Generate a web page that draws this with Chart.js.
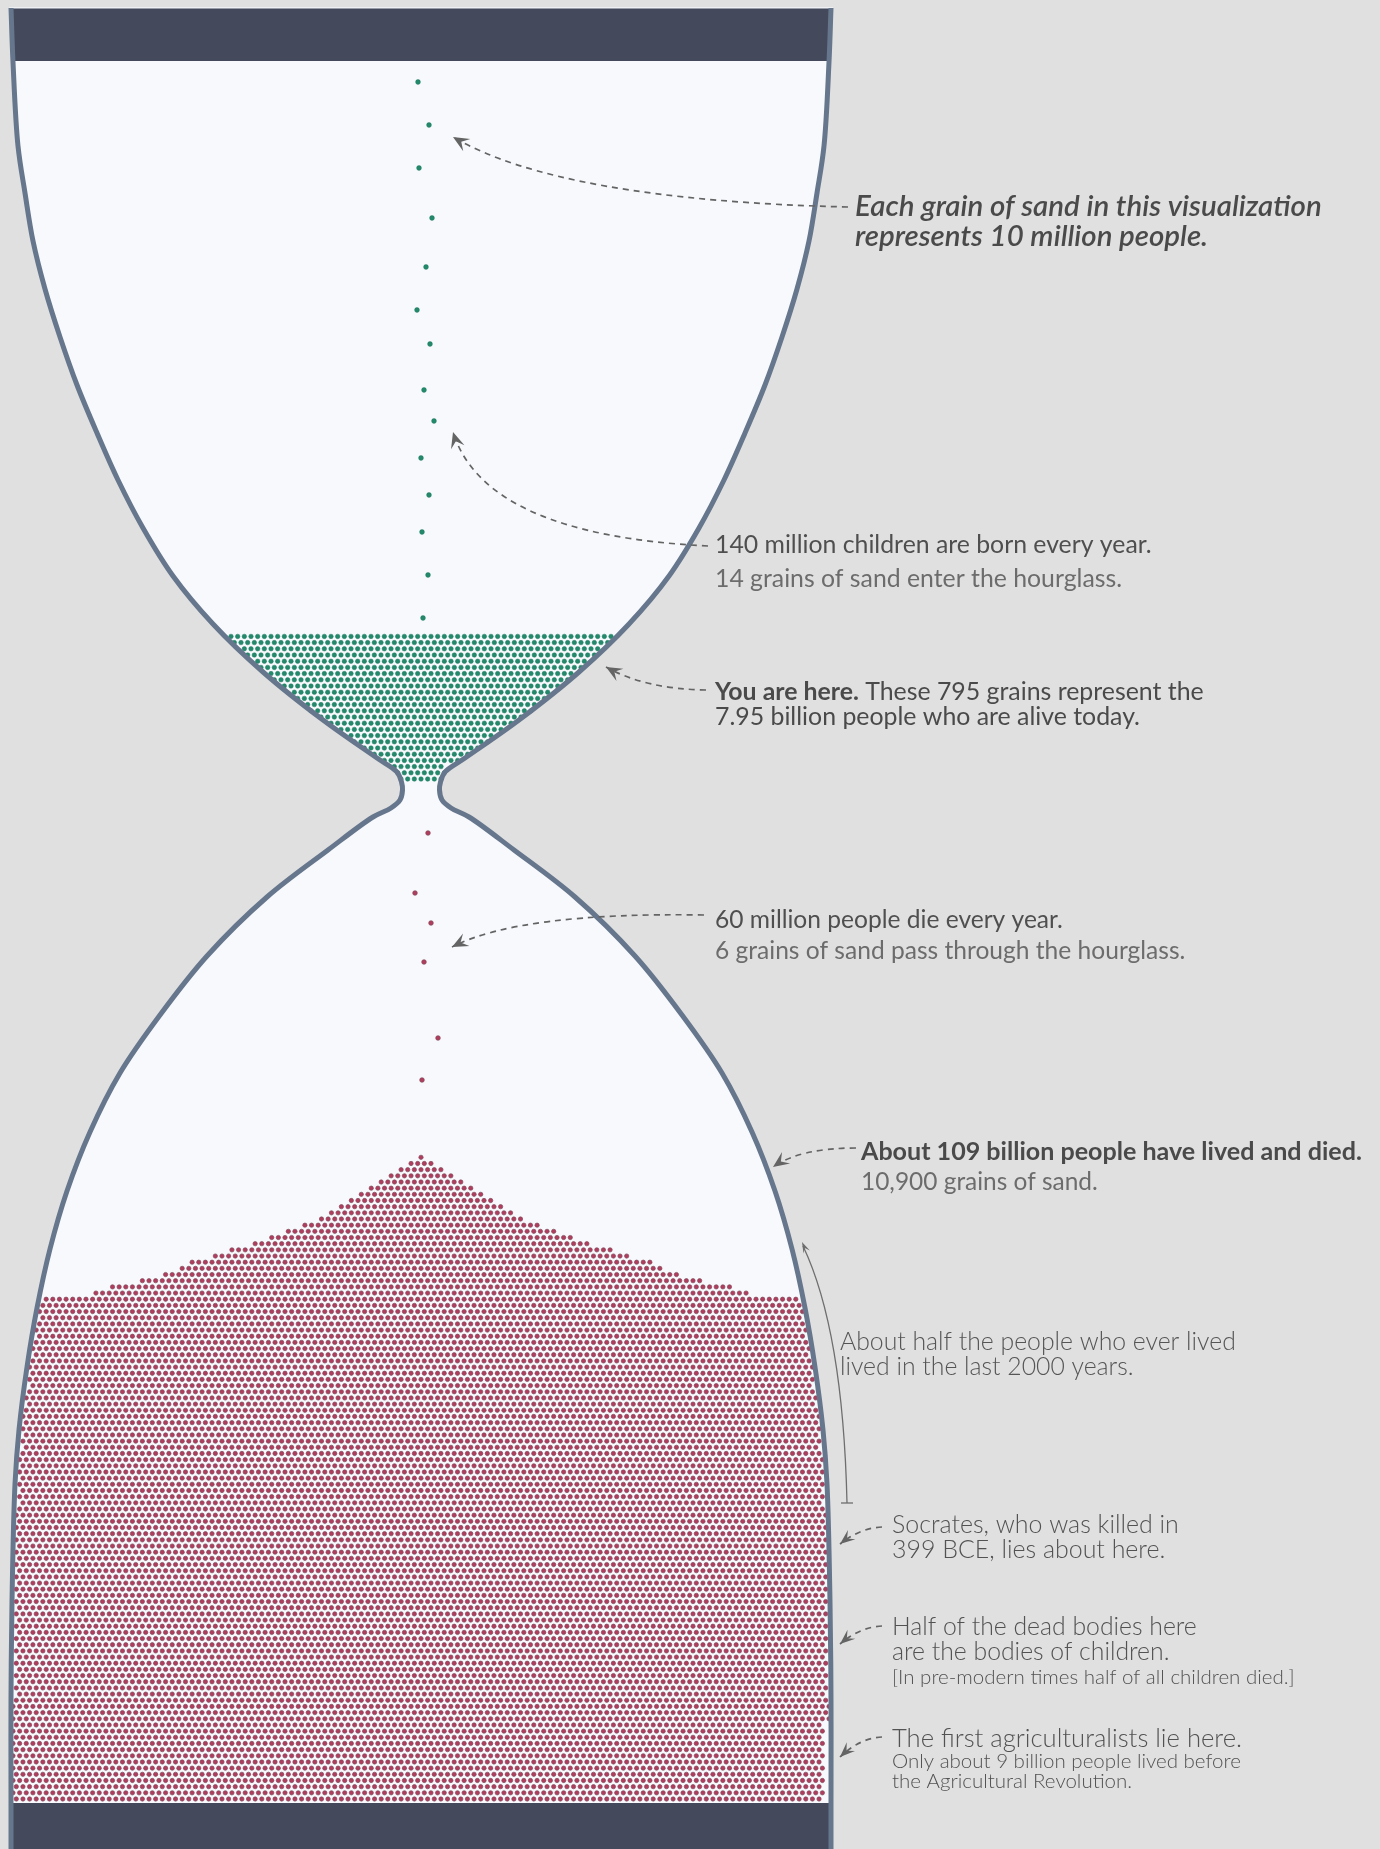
<!DOCTYPE html>
<html>
<head>
<meta charset="utf-8">
<style>
html,body{margin:0;padding:0;background:#e0e0e0;}
#wrap{width:1380px;height:1849px;position:relative;}
canvas{display:block;}
</style>
<script src="https://cdn.jsdelivr.net/npm/chart.js@4.4.0/dist/chart.umd.min.js"></script>
</head>
<body>
<div id="wrap"><canvas id="c" width="1380" height="1849"></canvas></div>
<script>
// ---------------- DATA ----------------
const aliveGrains = 795;      // 7.95 billion alive / 10 million per grain
const deadGrains = 10900;     // 109 billion dead / 10 million per grain
// grains falling into the top bulb (14 per year) and through the neck (6 per year)
const fallingAliveX = [418, 429, 419, 432, 426, 417, 430, 424, 434, 421, 429, 422, 428, 423];
const fallingAliveY = [82, 125, 168, 218, 267, 310, 344, 390, 421, 458, 495, 532, 575, 618];
const fallingDeadX = [428, 415, 431, 424, 438, 422];
const fallingDeadY = [833, 893, 923, 962, 1038, 1080];
// half-width of the dead pile for each row above the flat part, from the peak downwards
const pileHalfWidths = [5, 15, 25, 35, 44, 54, 64, 74, 84, 94, 105, 121, 138, 154, 171, 194, 211, 228, 244, 261, 284, 314, 330];
// hourglass outline: vertical position and half width
const glassY = [8, 62, 146, 193, 241, 289, 337, 385, 433, 480, 528, 576, 624, 672, 720, 758, 772, 782, 790, 800, 808, 817, 850, 897, 956, 1015, 1073, 1132, 1191, 1249, 1308, 1367, 1430, 1484, 1602, 1700, 1802, 1849];
const glassHalfWidth = [410, 408, 403, 396, 388, 376, 361, 344, 324, 303, 278, 248, 208, 158, 98, 44, 24, 19.5, 18.5, 21, 30, 48, 93, 154, 214, 261, 301, 331, 354, 371, 384, 394, 402, 406, 409, 410, 410, 410];

// ---------------- layout constants ----------------
const CX = 421;
const ALIVE_BOTTOM = 779, ALIVE_TOP = 637, ALIVE_PITCH = 6.2;
const DEAD_BOTTOM = 1799, DEAD_PLATEAU = 1298, DEAD_PITCH = 6.17;

function hwAt(y){
  if (y <= glassY[0]) return glassHalfWidth[0];
  for (let i = 0; i < glassY.length - 1; i++){
    if (y >= glassY[i] && y <= glassY[i+1]){
      const t = (y - glassY[i]) / (glassY[i+1] - glassY[i]);
      return glassHalfWidth[i] + t * (glassHalfWidth[i+1] - glassHalfWidth[i]);
    }
  }
  return glassHalfWidth[glassHalfWidth.length-1];
}
function rowXs(lim, dx, r){
  const off = (r % 2) * dx / 2, row = [];
  for (let k = -90; k <= 90; k++){ const x = off + k*dx; if (Math.abs(x) <= lim) row.push(x); }
  row.sort((a,b)=>Math.abs(a)-Math.abs(b));
  return row;
}
function buildAlive(dx){
  const rows = []; let r = 0;
  for (let y = ALIVE_BOTTOM; y >= ALIVE_TOP - 1; y -= ALIVE_PITCH, r++) rows.push({y, xs: rowXs(hwAt(y) + 0.5, dx, r)});
  return rows;
}
function buildDead(dx){
  const rows = []; let r = 0, y = DEAD_BOTTOM;
  for (; y >= DEAD_PLATEAU; y -= DEAD_PITCH, r++) rows.push({y, xs: rowXs(hwAt(y) - 2, dx, r), full: true});
  for (let i = pileHalfWidths.length - 1; i >= 0; i--, y -= DEAD_PITCH, r++){
    rows.push({y, xs: rowXs(Math.min(hwAt(y) - 2, pileHalfWidths[i] + 1), dx, r)});
  }
  return rows;
}
const countRows = rows => rows.reduce((s,r)=>s + r.xs.length, 0);
// pack exactly n grains: widest spacing that still holds n, then trim the surplus at the walls
function pack(builder, n, trimFrom){
  let lo = 4, hi = 10;
  for (let it = 0; it < 40; it++){ const mid = (lo+hi)/2; if (countRows(builder(mid)) >= n) lo = mid; else hi = mid; }
  const rows = builder(lo);
  let excess = countRows(rows) - n, i = 0;
  const order = trimFrom(rows);
  while (excess > 0 && order.length){ const row = rows[order[i % order.length]]; if (row.xs.length > 1){ row.xs.pop(); excess--; } i++; }
  const pts = [];
  rows.forEach(row => row.xs.forEach(x => pts.push({x: CX + x, y: row.y})));
  return pts;
}
const alivePts = pack(buildAlive, aliveGrains, rows => rows.map((r,i)=>i).slice(2, rows.length - 2));
const deadPts = pack(buildDead, deadGrains, rows => rows.map((r,i)=>i).filter(i => rows[i].full));
const fallAlivePts = fallingAliveX.map((x,i)=>({x, y: fallingAliveY[i]}));
const fallDeadPts = fallingDeadX.map((x,i)=>({x, y: fallingDeadY[i]}));

// ---------------- drawing helpers ----------------
// centripetal Catmull-Rom through the knots
function spline(ctx, P, move){
  if (move) ctx.moveTo(P[0][0], P[0][1]); else ctx.lineTo(P[0][0], P[0][1]);
  const n = P.length;
  const ext = i => i < 0 ? [2*P[0][0]-P[1][0], 2*P[0][1]-P[1][1]] : (i >= n ? [2*P[n-1][0]-P[n-2][0], 2*P[n-1][1]-P[n-2][1]] : P[i]);
  const dist = (a,b) => Math.max(Math.pow(Math.hypot(b[0]-a[0], b[1]-a[1]), 0.5), 1e-6);
  for (let i = 0; i < n - 1; i++){
    const p0 = ext(i-1), p1 = P[i], p2 = P[i+1], p3 = ext(i+2);
    const d1 = dist(p0,p1), d2 = dist(p1,p2), d3 = dist(p2,p3);
    const b1 = [0,1].map(k => (d1*d1*p2[k] - d2*d2*p0[k] + (2*d1*d1 + 3*d1*d2 + d2*d2)*p1[k]) / (3*d1*(d1+d2)));
    const b2 = [0,1].map(k => (d3*d3*p1[k] - d2*d2*p3[k] + (2*d3*d3 + 3*d3*d2 + d2*d2)*p2[k]) / (3*d3*(d3+d2)));
    ctx.bezierCurveTo(b1[0], b1[1], b2[0], b2[1], p2[0], p2[1]);
  }
}
function arrowHead(ctx, tip, from, L, W, color){
  const a = Math.atan2(tip[1]-from[1], tip[0]-from[0]);
  ctx.save(); ctx.translate(tip[0], tip[1]); ctx.rotate(a);
  ctx.beginPath(); ctx.moveTo(0,0); ctx.lineTo(-L,-W); ctx.lineTo(-L*0.6,0); ctx.lineTo(-L,W); ctx.closePath();
  ctx.fillStyle = color; ctx.fill(); ctx.restore();
}
function dashedArrow(ctx, s, c, e, L, W){
  ctx.save(); ctx.strokeStyle = '#646464'; ctx.lineWidth = 1.7; ctx.setLineDash([6,5]);
  ctx.beginPath(); ctx.moveTo(s[0], s[1]); ctx.quadraticCurveTo(c[0], c[1], e[0], e[1]); ctx.stroke();
  ctx.restore();
  arrowHead(ctx, e, c, L, W, '#646464');
}
function fitSize(ctx, segs, width, style){
  let w = 0;
  segs.forEach(s => { ctx.font = `${style} ${s.w} 20px Lato`; w += ctx.measureText(s.t).width; });
  return 20 * width / w;
}
function drawSegs(ctx, segs, x, y, size, style, color){
  ctx.fillStyle = color; ctx.textBaseline = 'alphabetic'; ctx.textAlign = 'left';
  segs.forEach(s => { ctx.font = `${style} ${s.w} ${size}px Lato`; ctx.fillText(s.t, x, y); x += ctx.measureText(s.t).width; });
}
// text blocks: x, lines [segments, baseline, color], fitting line index and its right edge
const blocks = [
  {x:855, style:'italic', fit:[0,1322], lines:[
    [[{t:'Each grain of sand in this visualization', w:600}], 216, '#4a4a4a'],
    [[{t:'represents 10 million people.', w:600}], 246, '#4a4a4a']]},
  {x:715, style:'normal', fit:[0,1152], lines:[
    [[{t:'140 million children are born every year.', w:400}], 553, '#4f4f4f'],
    [[{t:'14 grains of sand enter the hourglass.', w:400}], 587, '#6c6c6c']]},
  {x:715, style:'normal', fit:[0,1204], lines:[
    [[{t:'You are here.', w:700},{t:' These 795 grains represent the', w:400}], 700, '#4a4a4a'],
    [[{t:'7.95 billion people who are alive today.', w:400}], 725, '#4a4a4a']]},
  {x:715, style:'normal', fit:[0,1063], lines:[
    [[{t:'60 million people die every year.', w:400}], 928, '#4f4f4f'],
    [[{t:'6 grains of sand pass through the hourglass.', w:400}], 959, '#6c6c6c']]},
  {x:861, style:'normal', fit:[0,1362], lines:[
    [[{t:'About 109 billion people have lived and died.', w:700}], 1160, '#4a4a4a']]},
  {x:861, style:'normal', fit:[0,1098], lines:[
    [[{t:'10,900 grains of sand.', w:400}], 1190, '#6c6c6c']]},
  {x:840, style:'normal', fit:[0,1236], lines:[
    [[{t:'About half the people who ever lived', w:300}], 1350, '#555555'],
    [[{t:'lived in the last 2000 years.', w:300}], 1375, '#555555']]},
  {x:892, style:'normal', fit:[0,1179], lines:[
    [[{t:'Socrates, who was killed in', w:300}], 1533, '#525252'],
    [[{t:'399 BCE, lies about here.', w:300}], 1558, '#525252']]},
  {x:892, style:'normal', fit:[0,1197], lines:[
    [[{t:'Half of the dead bodies here', w:300}], 1635, '#525252'],
    [[{t:'are the bodies of children.', w:300}], 1660, '#525252']]},
  {x:892, style:'normal', fit:[0,1295], lines:[
    [[{t:'[In pre-modern times half of all children died.]', w:300}], 1684, '#525252']]},
  {x:892, style:'normal', fit:[0,1242], lines:[
    [[{t:'The first agriculturalists lie here.', w:300}], 1747, '#525252']]},
  {x:892, style:'normal', fit:[0,1241], lines:[
    [[{t:'Only about 9 billion people lived before', w:300}], 1768, '#525252'],
    [[{t:'the Agricultural Revolution.', w:300}], 1788, '#525252']]}
];

const hourglassPlugin = {
  id: 'hourglass',
  beforeDatasetsDraw(chart){
    const ctx = chart.ctx, X = v => chart.scales.x.getPixelForValue(v), Y = v => chart.scales.y.getPixelForValue(v);
    ctx.save();
    ctx.fillStyle = '#e0e0e0'; ctx.fillRect(0, 0, chart.width, chart.height);
    const L = glassY.map((y,i)=>[X(CX-glassHalfWidth[i]), Y(y)]);
    const R = glassY.map((y,i)=>[X(CX+glassHalfWidth[i]), Y(y)]).reverse();
    ctx.beginPath(); spline(ctx, L, true); spline(ctx, R, false); ctx.closePath();
    ctx.fillStyle = '#f7f9fc'; ctx.fill();
    ctx.restore();
  },
  afterDatasetsDraw(chart){
    const ctx = chart.ctx, X = v => chart.scales.x.getPixelForValue(v), Y = v => chart.scales.y.getPixelForValue(v);
    ctx.save();
    // bars
    ctx.fillStyle = '#444a5c';
    ctx.fillRect(X(CX-408), Y(8), X(CX+408)-X(CX-408), Y(61)-Y(8));
    ctx.fillRect(X(CX-408), Y(1803), X(CX+408)-X(CX-408), Y(1849)-Y(1803));
    ctx.fillStyle = '#eef0f3'; ctx.fillRect(X(CX-412), Y(7), X(CX+412)-X(CX-412), 1.5);
    // outline
    const L = glassY.map((y,i)=>[X(CX-glassHalfWidth[i]), Y(y)]);
    const R = glassY.map((y,i)=>[X(CX+glassHalfWidth[i]), Y(y)]);
    ctx.strokeStyle = '#66768c'; ctx.lineWidth = 5; ctx.lineJoin = 'round';
    ctx.beginPath(); spline(ctx, L, true); ctx.stroke();
    ctx.beginPath(); spline(ctx, R, true); ctx.stroke();
    // annotations
    dashedArrow(ctx, [X(848),Y(207)], [X(560),Y(200)], [X(453),Y(137)], 16, 7);
    dashedArrow(ctx, [X(708),Y(546)], [X(485),Y(535)], [X(453),Y(432)], 16, 7);
    dashedArrow(ctx, [X(706),Y(690)], [X(645),Y(689)], [X(606),Y(667)], 16, 7);
    dashedArrow(ctx, [X(704),Y(915)], [X(520),Y(912)], [X(452),Y(947)], 16, 7);
    dashedArrow(ctx, [X(856),Y(1148)], [X(800),Y(1148)], [X(773),Y(1167)], 16, 7);
    dashedArrow(ctx, [X(882),Y(1527)], [X(860),Y(1528)], [X(840),Y(1544)], 15, 6);
    dashedArrow(ctx, [X(882),Y(1626)], [X(860),Y(1627)], [X(840),Y(1644)], 15, 6);
    dashedArrow(ctx, [X(882),Y(1737)], [X(860),Y(1738)], [X(840),Y(1757)], 15, 6);
    // span arrow (last 2000 years)
    ctx.strokeStyle = '#6e6e6e'; ctx.lineWidth = 1.3; ctx.setLineDash([]);
    ctx.beginPath(); ctx.moveTo(X(847),Y(1503)); ctx.quadraticCurveTo(X(843),Y(1330),X(803),Y(1246)); ctx.stroke();
    ctx.beginPath(); ctx.moveTo(X(841),Y(1503)); ctx.lineTo(X(853),Y(1503)); ctx.stroke();
    arrowHead(ctx, [X(802),Y(1242)], [X(843),Y(1330)], 11, 3.5, '#6e6e6e');
    // texts
    blocks.forEach(b => {
      const fl = b.lines[b.fit[0]];
      const size = fitSize(ctx, fl[0], X(b.fit[1]) - X(b.x), b.style);
      b.lines.forEach(l => drawSegs(ctx, l[0], X(b.x), Y(l[1]), size, b.style, l[2]));
    });
    ctx.restore();
  }
};

new Chart(document.getElementById('c'), {
  type: 'scatter',
  data: { datasets: [
    { label:'Dead', data: deadPts, pointRadius: 2.15, pointBackgroundColor:'#b13c5d', pointBorderColor:'#82495a', pointBorderWidth: 0.7 },
    { label:'Alive', data: alivePts, pointRadius: 2.25, pointBackgroundColor:'#23896b', pointBorderColor:'#1f7a60', pointBorderWidth: 0.5 },
    { label:'Born', data: fallAlivePts, pointRadius: 2.4, pointBackgroundColor:'#23896b', pointBorderColor:'#1f7a60', pointBorderWidth: 0.5 },
    { label:'Dying', data: fallDeadPts, pointRadius: 2.3, pointBackgroundColor:'#b13c5d', pointBorderColor:'#82495a', pointBorderWidth: 0.7 }
  ]},
  options: {
    responsive: false, animation: false, devicePixelRatio: 1, events: [],
    parsing: false, normalized: true,
    layout: { padding: 0, autoPadding: false },
    scales: {
      x: { type:'linear', min:0, max:1380, display:false },
      y: { type:'linear', min:0, max:1849, reverse:true, display:false }
    },
    plugins: { legend:{display:false}, tooltip:{enabled:false} }
  },
  plugins: [hourglassPlugin]
});
</script>
</body>
</html>
